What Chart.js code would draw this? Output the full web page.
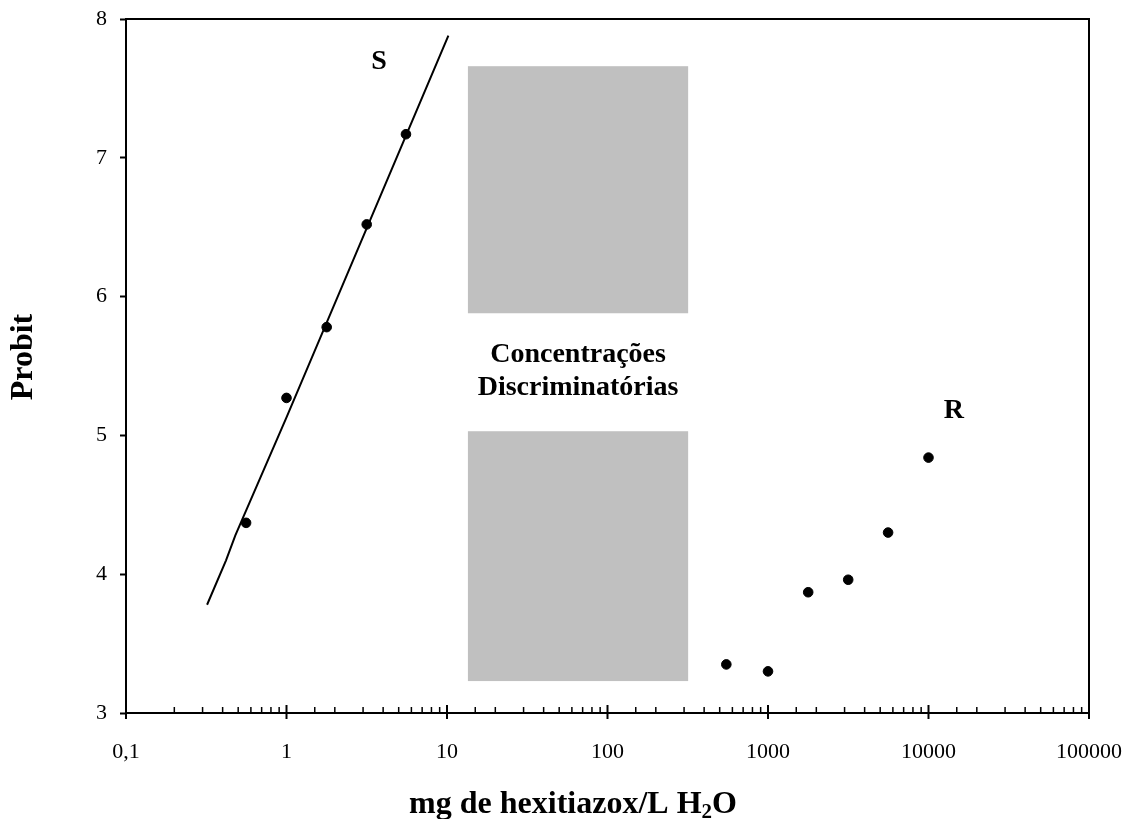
<!DOCTYPE html>
<html lang="pt">
<head>
  <meta charset="UTF-8">
  <title>Probit x concentração de hexitiazox</title>
  <script src="https://cdn.jsdelivr.net/npm/chart.js"></script>
  <style>
    body {
      margin: 0;
      background-color: white;
    }

    #chartContainer {
      width: 1128px;
      height: 819px;
      position: relative;
    }
  </style>
</head>
<body>

  <div id="chartContainer">
    <canvas id="probitChart"></canvas>
  </div>

  <script>
    // Linhagem suscetível (S): pontos observados
    const sDose = [0.56, 1.0, 1.78, 3.16, 5.55];
    const sProbit = [4.37, 5.27, 5.78, 6.52, 7.17];

    // Reta ajustada da linhagem S
    const sLineDose = [0.32, 0.42, 0.48, 1.0, 10.2];
    const sLineProbit = [3.78, 4.10, 4.28, 5.13, 7.88];

    // Linhagem resistente (R): pontos observados
    const rDose = [550, 1000, 1780, 3160, 5600, 10000];
    const rProbit = [3.35, 3.30, 3.87, 3.96, 4.30, 4.84];

    // Faixa das concentrações discriminatórias
    const bandDose = [13.5, 318];
    const bandLowerProbit = [3.23, 5.03];
    const bandUpperProbit = [5.88, 7.66];

    // Eixos
    const xMin = 0.1, xMax = 100000;
    const yMin = 3, yMax = 8;
    const xTickLabels = { 0.1: '0,1', 1: '1', 10: '10', 100: '100', 1000: '1000', 10000: '10000', 100000: '100000' };

    // Rótulos no gráfico (posição em unidades dos dados)
    const sLabelAt = [3.77, 7.69];
    const rLabelAt = [14400, 5.18];
    const bandLabelLines = ['Concentrações', 'Discriminatórias'];
    const bandLabelProbit = [5.58, 5.34];

    const serif = '"Liberation Serif", "Times New Roman", serif';

    const toPoints = (xs, ys) => xs.map((v, i) => ({ x: v, y: ys[i] }));

    const isDecade = v => {
      const e = Math.log10(v);
      return Math.abs(e - Math.round(e)) < 1e-9;
    };

    // sem margens extras calculadas pelo Chart.js: só o layout.padding vale
    const noScalePadding = s => {
      s.paddingLeft = 0;
      s.paddingRight = 0;
      s.paddingTop = 0;
      s.paddingBottom = 0;
    };

    // Faixas cinzas, moldura, marcas do eixo x e textos
    const extras = {
      id: 'extras',
      beforeDatasetsDraw(chart) {
        const { ctx, scales: { x, y } } = chart;
        ctx.save();
        ctx.fillStyle = '#c0c0c0';
        [bandLowerProbit, bandUpperProbit].forEach(([p0, p1]) => {
          const l = x.getPixelForValue(bandDose[0]);
          const r = x.getPixelForValue(bandDose[1]);
          const t = y.getPixelForValue(p1);
          const b = y.getPixelForValue(p0);
          ctx.fillRect(l, t, r - l, b - t);
        });
        ctx.restore();
      },
      afterDraw(chart) {
        const { ctx, chartArea: a, scales: { x, y } } = chart;
        ctx.save();

        // moldura
        ctx.strokeStyle = 'black';
        ctx.lineWidth = 2;
        ctx.strokeRect(a.left, a.top, a.right - a.left, a.bottom - a.top);

        // marcas do eixo x (maiores cruzam o eixo, menores para dentro)
        x.ticks.forEach(t => {
          const px = x.getPixelForValue(t.value);
          const major = isDecade(t.value);
          ctx.lineWidth = major ? 2 : 1.5;
          ctx.beginPath();
          ctx.moveTo(px, a.bottom - (major ? 8 : 6));
          ctx.lineTo(px, a.bottom + (major ? 6 : 0));
          ctx.stroke();
        });

        ctx.fillStyle = 'black';
        ctx.textAlign = 'center';
        ctx.textBaseline = 'middle';
        ctx.font = 'bold 28px ' + serif;
        ctx.fillText('S', x.getPixelForValue(sLabelAt[0]), y.getPixelForValue(sLabelAt[1]));
        ctx.fillText('R', x.getPixelForValue(rLabelAt[0]), y.getPixelForValue(rLabelAt[1]));

        const bandMid = Math.sqrt(bandDose[0] * bandDose[1]);
        bandLabelLines.forEach((txt, i) => {
          ctx.fillText(txt, x.getPixelForValue(bandMid), y.getPixelForValue(bandLabelProbit[i]));
        });

        // título do eixo y
        ctx.font = 'bold 32px ' + serif;
        ctx.save();
        ctx.translate(24, 357);
        ctx.rotate(-Math.PI / 2);
        ctx.fillText('Probit', 0, 0);
        ctx.restore();

        // título do eixo x com subscrito
        const big = 'bold 32px ' + serif, small = 'bold 21px ' + serif;
        const part1 = 'mg de hexitiazox/L H', sub = '2', part2 = 'O';
        ctx.font = big;
        const w1 = ctx.measureText(part1).width, w3 = ctx.measureText(part2).width;
        ctx.font = small;
        const w2 = ctx.measureText(sub).width;
        let cx = 573 - (w1 + w2 + w3) / 2;
        const base = 813;
        ctx.textAlign = 'left';
        ctx.textBaseline = 'alphabetic';
        ctx.font = big;
        ctx.fillText(part1, cx, base);
        cx += w1;
        ctx.font = small;
        ctx.fillText(sub, cx, base + 5);
        cx += w2;
        ctx.font = big;
        ctx.fillText(part2, cx, base);

        ctx.restore();
      }
    };

    new Chart(document.getElementById('probitChart'), {
      type: 'scatter',
      data: {
        datasets: [
          {
            label: 'S ajustada',
            data: toPoints(sLineDose, sLineProbit),
            showLine: true,
            borderColor: 'black',
            borderWidth: 2,
            pointRadius: 0,
            fill: false
          },
          {
            label: 'S',
            data: toPoints(sDose, sProbit),
            pointRadius: 4.8,
            pointBackgroundColor: 'black',
            pointBorderColor: 'black'
          },
          {
            label: 'R',
            data: toPoints(rDose, rProbit),
            pointRadius: 4.8,
            pointBackgroundColor: 'black',
            pointBorderColor: 'black'
          }
        ]
      },
      options: {
        responsive: true,
        maintainAspectRatio: false,
        animation: false,
        layout: { padding: { top: 19, right: 39, left: 0, bottom: 0 } },
        plugins: {
          legend: { display: false },
          tooltip: { enabled: false }
        },
        scales: {
          x: {
            type: 'logarithmic',
            min: xMin,
            max: xMax,
            grid: { display: false },
            border: { display: false },
            afterFit: s => { s.height = 106; noScalePadding(s); },
            ticks: {
              autoSkip: false,
              maxRotation: 0,
              padding: 18,
              color: 'black',
              font: { family: serif, size: 22 },
              callback: v => (isDecade(v) ? xTickLabels[v] ?? String(v) : '')
            }
          },
          y: {
            min: yMin,
            max: yMax,
            border: { display: false },
            afterFit: s => { s.width = 126; noScalePadding(s); },
            grid: {
              drawOnChartArea: false,
              tickLength: 6,
              tickWidth: 2,
              tickColor: 'black'
            },
            ticks: {
              stepSize: 1,
              padding: 13,
              color: 'black',
              font: { family: serif, size: 22 }
            }
          }
        }
      },
      plugins: [extras]
    });
  </script>

</body>
</html>
